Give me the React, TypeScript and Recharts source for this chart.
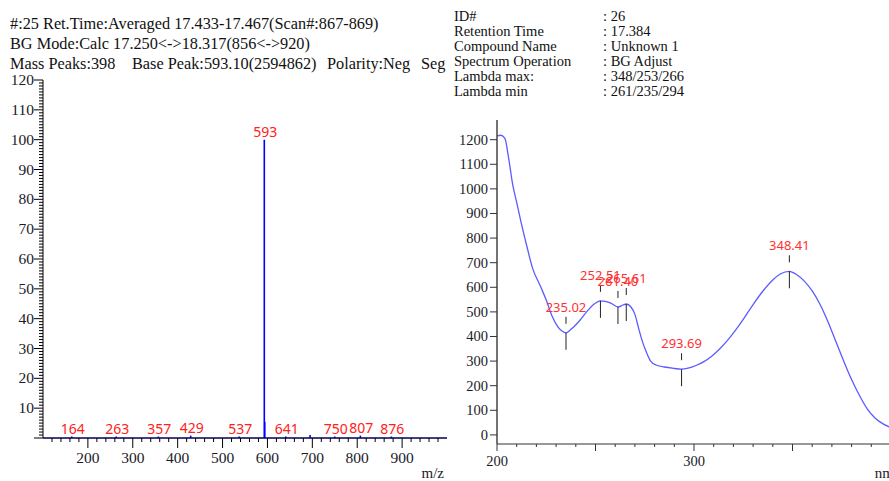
import { ComposedChart, XAxis, YAxis, ReferenceLine, Line, Scatter, ErrorBar } from 'recharts'

// MS spectrum (left)
const massMz = [164, 263, 357, 429, 537, 593, 594, 641, 695, 750, 807, 876]
const massIntensity = [0.5, 0.5, 0.5, 0.8, 0.5, 100, 5.4, 0.5, 1.0, 0.5, 0.8, 0.5]
const massLabels = ['164', '263', '357', '429', '537', '593', '', '641', '', '750', '807', '876']
const msXTicks = Array.from({ length: 44 }, (_, i) => 120 + i * 20)
const msYTicks = Array.from({ length: 121 }, (_, i) => i)
const msXLabels = [200, 300, 400, 500, 600, 700, 800, 900]

// UV spectrum (right)
const uvNm = [200, 202, 204, 206, 208, 210, 212, 215, 218, 222, 225, 228, 231, 233, 235, 238, 242, 246, 249, 252.5, 255, 258, 261.4, 264, 265.6, 268, 270, 272, 274, 276, 278, 281, 285, 289, 293.7, 297, 301, 305, 309, 313, 317, 321, 325, 330, 335, 340, 344, 348.4, 352, 356, 360, 364, 368, 372, 376, 380, 384, 388, 392, 396, 400]
const uvAbs = [1215, 1218, 1205, 1120, 1016, 945, 872, 772, 679, 605, 548, 482, 438, 422, 415, 432, 465, 505, 530, 545, 543, 535, 520, 528, 532, 520, 490, 430, 375, 333, 300, 283, 276, 271, 267, 271, 282, 298, 320, 349, 384, 425, 470, 530, 585, 630, 655, 665, 652, 625, 585, 530, 460, 380, 300, 225, 160, 105, 68, 45, 30]
const uvPeakNm = [235.02, 252.51, 261.4, 265.61, 293.69, 348.41]
const uvPeakAbs = [415, 545, 520, 532, 267, 665]
const uvPeakLabels = ['235.02', '252.51', '261.40', '265.61', '293.69', '348.41']
const uvXTicks = Array.from({ length: 21 }, (_, i) => 200 + i * 10)
const uvYTicks = [0, 100, 200, 300, 400, 500, 600, 700, 800, 900, 1000, 1100, 1200]
const uvXLabels = [200, 300]

const msHeader = [
  '#:25 Ret.Time:Averaged 17.433-17.467(Scan#:867-869)',
  'BG Mode:Calc 17.250<->18.317(856<->920)',
]
const msHeaderLine3 = ['Mass Peaks:398', 'Base Peak:593.10(2594862)', 'Polarity:Neg', 'Seg']
const msHeaderLine3X = [10, 132, 327, 421]
const uvInfoKeys = ['ID#', 'Retention Time', 'Compound Name', 'Spectrum Operation', 'Lambda max:', 'Lambda min']
const uvInfoValues = [': 26', ': 17.384', ': Unknown 1', ': BG Adjust', ': 348/253/266', ': 261/235/294']

const massData = massMz.map((mz, i) => ({ mz, intensity: massIntensity[i], stick: [massIntensity[i], 0], label: massLabels[i] }))
const uvData = uvNm.map((nm, i) => ({ nm, abs: uvAbs[i] }))
const uvPeaks = uvPeakNm.map((nm, i) => ({ nm, abs: uvPeakAbs[i], label: uvPeakLabels[i] }))

const serif = '"Liberation Serif", "Times New Roman", serif'
const sans = '"Noto Sans", "DejaVu Sans", sans-serif'

function MsYTick({ x, y, payload }: any) {
  const v = payload.value
  const major = v % 10 === 0
  return (
    <g>
      <line x1={x - (major ? 9 : 4)} x2={x} y1={y} y2={y} stroke="#000" />
      {major && v > 0 && (
        <text x={x - 9} y={y + 5} textAnchor="end" fontSize={15.5} fontFamily={serif} fill="#1b1b2a">{v}</text>
      )}
    </g>
  )
}

function MsXTick({ x, y, payload }: any) {
  const v = payload.value
  const major = v % 100 === 0
  return (
    <g>
      <line x1={x} x2={x} y1={y} y2={y + (major ? 10 : 4)} stroke="#000" />
      {msXLabels.includes(v) && (
        <text x={x} y={y + 25} textAnchor="middle" fontSize={15.5} fontFamily={serif} fill="#1b1b2a">{v}</text>
      )}
    </g>
  )
}

function UvYTick({ x, y, payload }: any) {
  const v = payload.value
  return (
    <g>
      <line x1={x - 7} x2={x} y1={y} y2={y} stroke="#333" />
      <text x={x - 9} y={y + 5} textAnchor="end" fontSize={14.5} fontFamily={serif} fill="#1b1b2a">{v}</text>
    </g>
  )
}

function UvXTick({ x, y, payload }: any) {
  const v = payload.value
  const major = v % 50 === 0
  return (
    <g>
      <line x1={x} x2={x} y1={y} y2={y + (major ? 7 : 3)} stroke="#333" />
      {uvXLabels.includes(v) && (
        <text x={x} y={y + 22} textAnchor="middle" fontSize={14.5} fontFamily={serif} fill="#1b1b2a">{v}</text>
      )}
    </g>
  )
}

// label above each mass stick (the stick itself is the ErrorBar)
function PeakLabel(props: any) {
  const { cx, cy, payload } = props
  if (!payload.label) return <g />
  return (
    <text x={cx + 1} y={cy - 3} textAnchor="middle" fontSize={14} fontFamily={sans} fill="#ff2020">{payload.label}</text>
  )
}

function PeakMark(props: any) {
  const { cx, cy, payload } = props
  return (
    <g>
      <line x1={cx} x2={cx} y1={cy - 16} y2={cy - 9} stroke="#222" />
      <line x1={cx} x2={cx} y1={cy} y2={cy + 17} stroke="#222" />
      <text x={cx} y={cy - 21} textAnchor="middle" fontSize={13} fontFamily={sans} fill="#ff3030">{payload.label}</text>
    </g>
  )
}

export default function App() {
  return (
    <div style={{ position: 'absolute', left: 0, top: 0, width: 889, height: 481, overflow: 'hidden', background: '#fff' }}>
      <svg width={889} height={110} style={{ position: 'absolute', left: 0, top: 0 }}>
        {msHeader.map((t, i) => (
          <text key={t} x={10} y={28.5 + i * 20.5} fontSize={16.3} fontFamily={serif} fill="#111">{t}</text>
        ))}
        {msHeaderLine3.map((t, i) => (
          <text key={t} x={msHeaderLine3X[i]} y={69} fontSize={16.3} fontFamily={serif} fill="#111">{t}</text>
        ))}
        {uvInfoKeys.map((k, i) => (
          <g key={k}>
            <text x={454} y={20.5 + i * 15} fontSize={14.5} fontFamily={serif} fill="#111">{k}</text>
            <text x={603} y={20.5 + i * 15} fontSize={14.5} fontFamily={serif} fill="#111">{uvInfoValues[i]}</text>
          </g>
        ))}
      </svg>

      {/* Mass spectrum */}
      <div style={{ position: 'absolute', left: 0, top: 0 }}>
        <ComposedChart width={460} height={481} data={massData} margin={{ top: 80, right: 13, bottom: 0, left: 0 }}>
          <XAxis dataKey="mz" type="number" domain={[100, 1000]} ticks={msXTicks} interval={0} tickSize={0} tickMargin={0}
            tick={<MsXTick />} height={43} axisLine={{ stroke: '#000' }}
            label={{ value: 'm/z', position: 'insideBottomRight', offset: 3, fontSize: 15, fontFamily: serif, fill: '#1b1b2a' }} />
          <XAxis xAxisId="top" orientation="top" type="number" domain={[100, 1000]} height={0} tick={false} tickLine={false} axisLine={{ stroke: '#000' }} />
          <YAxis type="number" domain={[0, 120]} ticks={msYTicks} interval={0} tickSize={0} tickMargin={0}
            tick={<MsYTick />} width={43} axisLine={{ stroke: '#000' }} />
          <YAxis yAxisId="right" orientation="right" type="number" domain={[0, 120]} width={0} tick={false} tickLine={false} axisLine={{ stroke: '#000' }} />
          <ReferenceLine y={0} stroke="#0000ff" />
          <Scatter dataKey="intensity" shape={PeakLabel} isAnimationActive={false}>
            <ErrorBar dataKey="stick" direction="y" width={0} stroke="#0000ff" strokeWidth={1.6} isAnimationActive={false} />
          </Scatter>
        </ComposedChart>
      </div>

      {/* UV spectrum */}
      <div style={{ position: 'absolute', left: 440, top: 0 }}>
        <ComposedChart width={451} height={481} margin={{ top: 120, right: 0, bottom: 0, left: 0 }}>
          <XAxis dataKey="nm" type="number" domain={[200, 400]} ticks={uvXTicks} interval={0} tickSize={0} tickMargin={0}
            tick={<UvXTick />} height={37} axisLine={{ stroke: '#333' }}
            label={{ value: 'nm', position: 'insideBottomRight', offset: 3, dx: 6, fontSize: 15, fontFamily: serif, fill: '#1b1b2a' }} />
          <XAxis xAxisId="top" orientation="top" type="number" domain={[200, 400]} height={0} tick={false} tickLine={false} axisLine={{ stroke: '#000' }} />
          <YAxis type="number" domain={[-37, 1280]} ticks={uvYTicks} interval={0} tickSize={0} tickMargin={0}
            tick={<UvYTick />} width={57} axisLine={{ stroke: '#444', strokeWidth: 1.5 }} />
          <Line data={uvData} dataKey="abs" type="monotone" stroke="#5b5bff" strokeWidth={1.3} dot={false} isAnimationActive={false} />
          <Scatter data={uvPeaks} dataKey="abs" shape={PeakMark} isAnimationActive={false} />
        </ComposedChart>
      </div>
    </div>
  )
}
